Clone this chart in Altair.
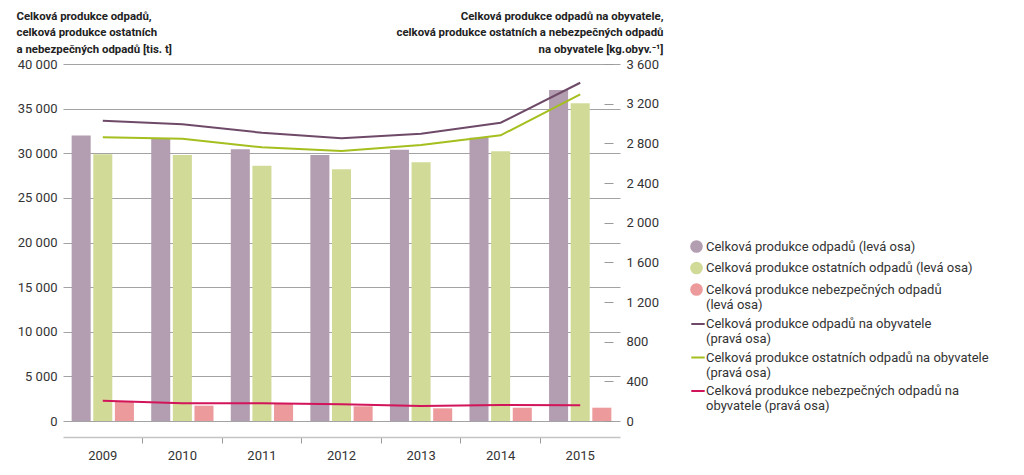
import altair as alt
import pandas as pd

years = ["2009", "2010", "2011", "2012", "2013", "2014", "2015"]

# left axis (tis. t)
total_waste = [32000, 31600, 30440, 29800, 30400, 31740, 37100]
other_waste = [29900, 29800, 28600, 28200, 29000, 30220, 35600]
hazard_waste = [2200, 1720, 1950, 1650, 1420, 1490, 1490]

# right axis (kg/obyv.)
total_pc = [3028, 2992, 2907, 2851, 2897, 3008, 3411]
other_pc = [2861, 2847, 2760, 2723, 2783, 2881, 3294]
hazard_pc = [205, 178, 178, 168, 151, 161, 158]

bar_series = [
    "Celková produkce odpadů (levá osa)",
    "Celková produkce ostatních odpadů (levá osa)",
    "Celková produkce nebezpečných odpadů|(levá osa)",
]
line_series = [
    "Celková produkce odpadů na obyvatele|(pravá osa)",
    "Celková produkce ostatních odpadů na obyvatele|(pravá osa)",
    "Celková produkce nebezpečných odpadů na|obyvatele (pravá osa)",
]
bar_colors = ["#b39db0", "#d2da97", "#ec9a9b"]
line_colors = ["#6e4a68", "#a4bf1e", "#d2145a"]

left_ticks = [0, 5000, 10000, 15000, 20000, 25000, 30000, 35000, 40000]
right_ticks = [0, 400, 800, 1200, 1600, 2000, 2400, 2800, 3200, 3600]

left_title = ["Celková produkce odpadů,", "celková produkce ostatních", "a nebezpečných odpadů [tis. t]"]
right_title = ["Celková produkce odpadů na obyvatele,",
               "celková produkce ostatních a nebezpečných odpadů",
               "na obyvatele [kg.obyv.⁻¹]"]

bar_rows = []
for s, vals in zip(bar_series, [total_waste, other_waste, hazard_waste]):
    for y, v in zip(years, vals):
        bar_rows.append({"year": y, "series": s, "value": v})
bar_df = pd.DataFrame(bar_rows)

line_rows = []
for s, vals in zip(line_series, [total_pc, other_pc, hazard_pc]):
    for y, v in zip(years, vals):
        line_rows.append({"year": y, "series": s, "value": v})
line_df = pd.DataFrame(line_rows)

FONT = "Roboto"
fmt = "replace(format(datum.value, ','), ',', ' ')"

x_axis = alt.Axis(
    title=None, orient="bottom", offset=16, grid=False,
    domainColor="#c4c4c4", domainWidth=1.5,
    tickColor="#9a9a9a", tickSize=6, bandPosition=1,
    tickOpacity=alt.condition("datum.value === '2015'", alt.value(0), alt.value(1)),
    labelFont=FONT, labelFontSize=13, labelColor="#333333", labelPadding=6,
    labelAngle=0,
)
x_enc = alt.X("year:N", sort=years, axis=x_axis,
              scale=alt.Scale(paddingInner=0, paddingOuter=0))

bars = alt.Chart(bar_df).mark_bar().encode(
    x=x_enc,
    xOffset=alt.XOffset("series:N", sort=bar_series,
                        scale=alt.Scale(paddingInner=0.12, paddingOuter=0.4)),
    y=alt.Y("value:Q", scale=alt.Scale(domain=[0, 40000], nice=False),
            axis=alt.Axis(
                orient="left", values=left_ticks, labelExpr=fmt,
                grid=True, gridColor="#a3a3a3", gridWidth=1,
                domain=False, ticks=False, labelPadding=6,
                labelFont=FONT, labelFontSize=13, labelColor="#333333",
                title=left_title, titleAngle=0, titleAlign="left",
                titleBaseline="top", titleX=-47, titleY=-54,
                titleFont=FONT, titleFontSize=11.4, titleFontWeight="bold",
                titleColor="#222222", titleLineHeight=16.5,
            )),
    color=alt.Color("series:N", sort=bar_series,
                    scale=alt.Scale(domain=bar_series, range=bar_colors),
                    legend=alt.Legend(
                        title=None, orient="none", legendX=627, legendY=176,
                        symbolType="circle", symbolSize=160, symbolStrokeWidth=0,
                        labelExpr="split(datum.label, '|')",
                        labelFont=FONT, labelFontSize=13, labelColor="#333333",
                        labelLimit=400, labelOffset=3, rowPadding=7.5,
                    )),
)

lines = alt.Chart(line_df).mark_line(strokeWidth=2).encode(
    x=x_enc,
    y=alt.Y("value:Q", scale=alt.Scale(domain=[0, 3600], nice=False),
            axis=alt.Axis(
                orient="right", values=right_ticks, labelExpr=fmt,
                grid=False, domain=False, ticks=True, tickSize=9,
                tickColor="#9a9a9a", offset=-16, labelPadding=13,
                labelFont=FONT, labelFontSize=13, labelColor="#333333",
                title=right_title, titleAngle=0, titleAlign="right",
                titleBaseline="top", titleX=59, titleY=-54,
                titleFont=FONT, titleFontSize=11.4, titleFontWeight="bold",
                titleColor="#222222", titleLineHeight=16.5,
            )),
    stroke=alt.Stroke("series:N", sort=line_series,
                      scale=alt.Scale(domain=line_series, range=line_colors),
                      legend=alt.Legend(
                          title=None, orient="none", legendX=627, legendY=252,
                          symbolType="stroke", symbolSize=180, symbolStrokeWidth=2,
                          labelExpr="split(datum.label, '|')",
                          labelFont=FONT, labelFontSize=13, labelColor="#333333",
                          labelLimit=400, labelOffset=0, rowPadding=3.5,
                      )),
)

chart = alt.layer(bars, lines).resolve_scale(y="independent").properties(
    width=557, height=357,
    padding={"left": 55, "top": 56, "right": 380, "bottom": 40},
    autosize=alt.AutoSizeParams(type="none"),
).configure_view(stroke=None)

chart.save("out.html", embed_options={"renderer": "svg", "actions": False})
